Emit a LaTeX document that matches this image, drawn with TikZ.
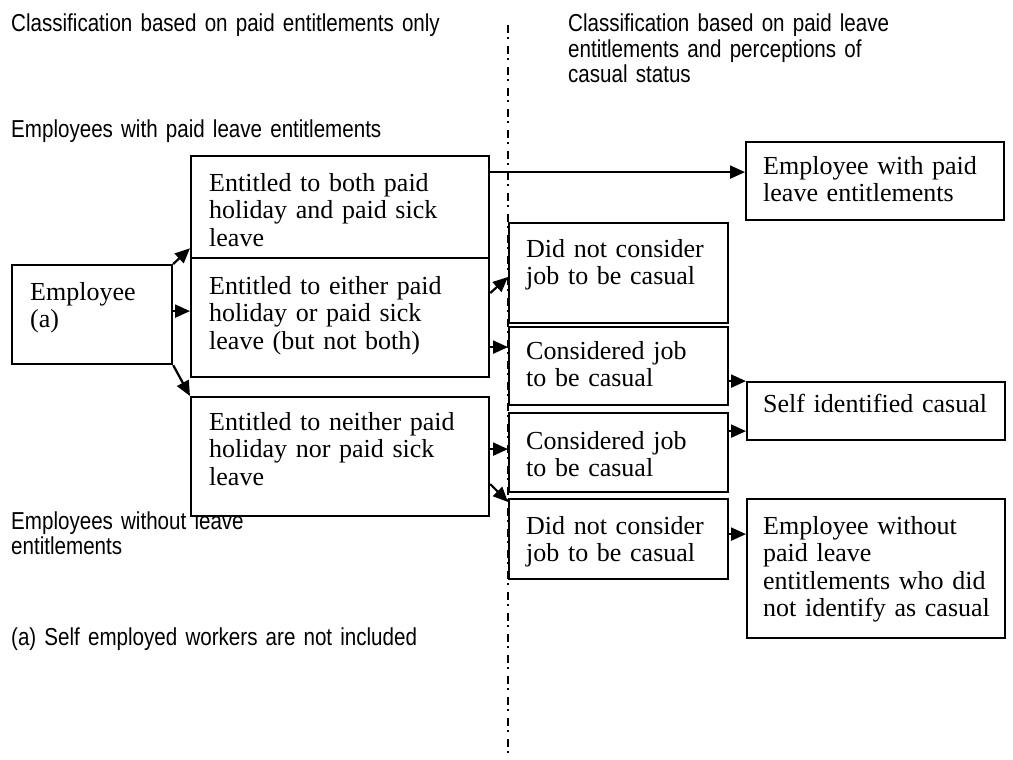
\documentclass[tikz,border=0pt]{standalone}
\usepackage{fontspec}
\setmainfont{Liberation Serif}
\newfontfamily\lblfont[FakeStretch=0.84]{Liberation Sans}
\usetikzlibrary{arrows.meta}
\begin{document}
\begin{tikzpicture}[x=1pt,y=-1pt,
  box/.style={draw, line width=2.2pt, fill=white, rectangle, inner sep=0pt, anchor=north west},
  btxt/.style={anchor=base west, inner sep=0pt, align=left, text width=300pt, font={\fontsize{26}{27.5}\selectfont\fontdimen2\font=4pt}},
  lbl/.style={anchor=base west, inner sep=0pt, align=left, text width=480pt, font={\lblfont\fontsize{24.5}{25.5}\selectfont\fontdimen2\font=5pt}},
  arr/.style={line width=2.2pt, -{Triangle[length=15pt,width=13pt]}},
  divider/.style={line width=1.6pt, dash pattern=on 8pt off 4pt on 2pt off 7pt}]
\useasboundingbox (0,0) rectangle (1013,760);
% divider
\coordinate (dtop) at (508,25);
\coordinate (dbot) at (508,760);
\draw[divider] (dtop) -- (dbot);
% sans labels
\node[lbl] (h1) at (11,32) {Classification based on paid entitlements only};
\node[lbl] (h2) at (568,32) {Classification based on paid leave\\entitlements and perceptions of\\casual status};
\node[lbl] (l1) at (11,138) {Employees with paid leave entitlements};
\node[lbl] (l2) at (11,529) {Employees without leave\\entitlements};
\node[lbl] (l3) at (11,645) {(a) Self employed workers are not included};
% boxes
\node[box, minimum width=160pt, minimum height=99pt] (E) at (11,264) {};
\node[box, minimum width=298pt, minimum height=102pt] (A) at (190,155) {};
\node[box, minimum width=298pt, minimum height=119pt] (B) at (190,257) {};
\node[box, minimum width=298pt, minimum height=119pt] (C) at (190,396) {};
\node[box, minimum width=219pt, minimum height=100pt] (M1) at (508,222) {};
\node[box, minimum width=219pt, minimum height=78pt] (M2) at (508,326) {};
\node[box, minimum width=219pt, minimum height=79pt] (M3) at (508,412) {};
\node[box, minimum width=219pt, minimum height=80pt] (M4) at (508,498) {};
\node[box, minimum width=258pt, minimum height=78pt] (R1) at (745,141) {};
\node[box, minimum width=258pt, minimum height=58pt] (R2) at (746,381) {};
\node[box, minimum width=258pt, minimum height=139pt] (R3) at (746,498) {};
% box texts
\node[btxt] (tE) at ([xshift=19pt,yshift=-36pt]E.north west) {Employee\\(a)};
\node[btxt] (tA) at ([xshift=19pt,yshift=-36pt]A.north west) {Entitled to both paid\\holiday and paid sick\\leave};
\node[btxt] (tB) at ([xshift=19pt,yshift=-37pt]B.north west) {Entitled to either paid\\holiday or paid sick\\leave (but not both)};
\node[btxt] (tC) at ([xshift=19pt,yshift=-34pt]C.north west) {Entitled to neither paid\\holiday nor paid sick\\leave};
\node[btxt] (tM1) at ([xshift=18pt,yshift=-35pt]M1.north west) {Did not consider\\job to be casual};
\node[btxt] (tM2) at ([xshift=18pt,yshift=-33pt]M2.north west) {Considered job\\to be casual};
\node[btxt] (tM3) at ([xshift=18pt,yshift=-37pt]M3.north west) {Considered job\\to be casual};
\node[btxt] (tM4) at ([xshift=18pt,yshift=-36pt]M4.north west) {Did not consider\\job to be casual};
\node[btxt] (tR1) at ([xshift=18pt,yshift=-33pt]R1.north west) {Employee with paid\\leave entitlements};
\node[btxt] (tR2) at ([xshift=17pt,yshift=-31pt]R2.north west) {Self identified casual};
\node[btxt] (tR3) at ([xshift=17pt,yshift=-36pt]R3.north west) {Employee without\\paid leave\\entitlements who did\\not identify as casual};
% connectors
\draw[arr] (E.north east) -- ([yshift=11pt]A.south west);
\draw[arr] ([yshift=3.5pt]E.east) -- ([yshift=3.5pt]E.east -| B.west);
\draw[arr] (E.south east) -- (C.north west);
\draw[arr] ([yshift=35pt]A.east) -- ([yshift=35pt]A.east -| R1.west);
\draw[arr] ([yshift=24.5pt]B.east) -- ([yshift=-55pt]M1.north west);
\draw[arr] ([yshift=-29.5pt]B.east) -- ([yshift=-29.5pt]B.east -| M2.west);
\draw[arr] ([yshift=7.5pt]C.east) -- ([yshift=7.5pt]C.east -| M3.west);
\draw[arr] ([yshift=-27.5pt]C.east) -- ([yshift=-4pt]M4.north west);
\draw[arr] ([yshift=-15pt]M2.east) -- ([yshift=-15pt]M2.east -| R2.west);
\draw[arr] ([yshift=21.5pt]M3.east) -- ([yshift=21.5pt]M3.east -| R2.west);
\draw[arr] ([yshift=5pt]M4.east) -- ([yshift=5pt]M4.east -| R3.west);
\end{tikzpicture}
\end{document}
